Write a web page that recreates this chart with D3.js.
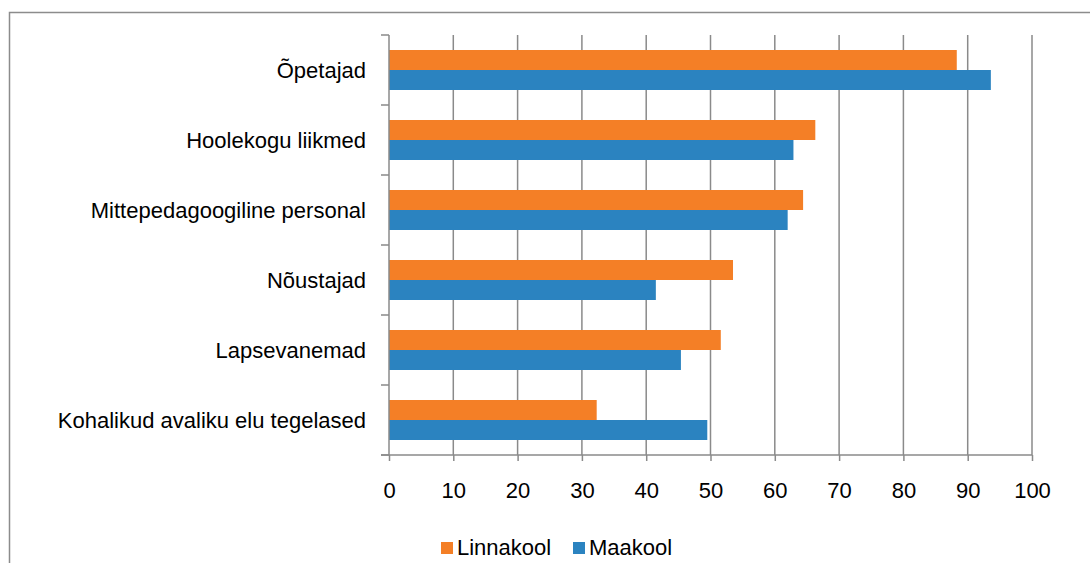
<!DOCTYPE html>
<html>
<head>
<meta charset="utf-8">
<script src="https://cdn.jsdelivr.net/npm/d3@7"></script>
<style>
  html, body { margin: 0; padding: 0; background: #fff; }
  svg { display: block; }
  text { font-family: "Liberation Sans", Arial, sans-serif; fill: #000; }
</style>
</head>
<body>
<svg id="chart" width="1090" height="563"></svg>
<script>
const categories = [
  "Õpetajad",
  "Hoolekogu liikmed",
  "Mittepedagoogiline personal",
  "Nõustajad",
  "Lapsevanemad",
  "Kohalikud avaliku elu tegelased"
];
const seriesNames = ["Linnakool", "Maakool"];
const linnakool = [88.3, 66.3, 64.4, 53.5, 51.6, 32.3];
const maakool   = [93.6, 62.9, 62.0, 41.5, 45.4, 49.5];
const xTicks = [0, 10, 20, 30, 40, 50, 60, 70, 80, 90, 100];
const colors = ["#f47f26", "#2b83c0"];

const svg = d3.select("#chart");
const gridColor = "#8a8a8a";
const fontSize = 22;

// outer frame
svg.append("rect")
  .attr("x", 9.5).attr("y", 12.5)
  .attr("width", 1200).attr("height", 700)
  .attr("fill", "none").attr("stroke", "#8c8c8c").attr("stroke-width", 1.5);

const x = d3.scaleLinear().domain([0, 100]).range([389, 1032]);
const y = d3.scaleBand().domain(categories).range([35, 455]).paddingInner(0).paddingOuter(0);
const ySub = d3.scaleBand().domain(seriesNames).range([15, 55]);

// gridlines
svg.append("g").selectAll("line").data(xTicks.slice(1)).join("line")
  .attr("x1", d => x(d)).attr("x2", d => x(d))
  .attr("y1", 35).attr("y2", 455)
  .attr("stroke", gridColor).attr("stroke-width", 1.5);

// bars
const data = categories.map((c, i) => ({ cat: c, vals: [linnakool[i], maakool[i]] }));
const rows = svg.append("g").selectAll("g").data(data).join("g")
  .attr("transform", d => `translate(0,${y(d.cat)})`);
rows.selectAll("rect").data(d => d.vals.map((v, j) => ({ name: seriesNames[j], v, j })))
  .join("rect")
  .attr("x", x(0))
  .attr("y", d => ySub(d.name))
  .attr("width", d => x(d.v) - x(0))
  .attr("height", ySub.bandwidth())
  .attr("fill", d => colors[d.j]);

// y axis
const yAxisG = svg.append("g").attr("transform", `translate(${x(0)},0)`);
yAxisG.append("line").attr("x1", 0).attr("x2", 0).attr("y1", 35).attr("y2", 455)
  .attr("stroke", gridColor).attr("stroke-width", 1.5);
const yTickPos = categories.map(c => y(c)).concat([y.range()[1]]);
yAxisG.selectAll("line.tick").data(yTickPos).join("line").attr("class", "tick")
  .attr("x1", -8).attr("x2", 0).attr("y1", d => d).attr("y2", d => d)
  .attr("stroke", gridColor).attr("stroke-width", 1.5);
yAxisG.selectAll("text").data(categories).join("text")
  .attr("x", -23)
  .attr("y", d => y(d) + y.bandwidth() / 2)
  .attr("dy", "0.35em")
  .attr("text-anchor", "end")
  .style("font-size", fontSize + "px")
  .text(d => d);

// x axis
const xAxis = d3.axisBottom(x).tickValues(xTicks).tickSize(6).tickPadding(21).tickSizeOuter(0);
const xAxisG = svg.append("g").attr("transform", "translate(0,455)").call(xAxis);
xAxisG.select(".domain").remove();
xAxisG.append("line").attr("x1", 381).attr("x2", x(100)).attr("y1", 0).attr("y2", 0)
  .attr("stroke", gridColor).attr("stroke-width", 1.5);
xAxisG.selectAll(".tick line").attr("stroke", gridColor).attr("stroke-width", 1.5);
xAxisG.selectAll(".tick text").style("font-size", fontSize + "px")
  .style("font-family", "'Liberation Sans', Arial, sans-serif").attr("fill", "#000");

// legend
const legend = svg.append("g");
const legendX = [441, 573];
seriesNames.forEach((name, i) => {
  legend.append("rect").attr("x", legendX[i]).attr("y", 542).attr("width", 12).attr("height", 12)
    .attr("fill", colors[i]);
  legend.append("text").attr("x", legendX[i] + 16).attr("y", 555)
    .style("font-size", fontSize + "px").text(name);
});
</script>
</body>
</html>
